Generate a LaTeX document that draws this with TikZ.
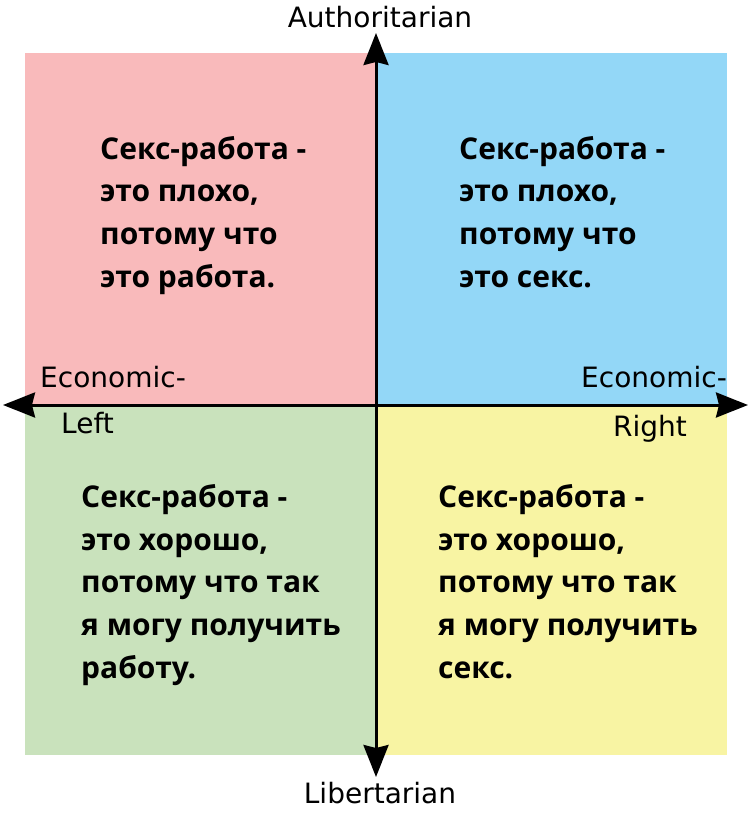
\documentclass[tikz,border=0pt]{standalone}
\usepackage{fontspec}
\usetikzlibrary{arrows.meta}
\newfontfamily\axisfont{DejaVu Sans}
\newfontfamily\quadfont{Open Sans}
\definecolor{qpink}{RGB}{249,186,187}
\definecolor{qblue}{RGB}{147,215,247}
\definecolor{qgreen}{RGB}{201,226,188}
\definecolor{qyellow}{RGB}{248,244,163}
\tikzset{
  quadtext/.style={font=\quadfont\bfseries\fontsize{30}{42.6}\selectfont, align=left, inner sep=0pt, anchor=base west},
  axislabel/.style={font=\axisfont\fontsize{28}{32}\selectfont, inner sep=0pt},
  axisline/.style={line width=3pt, {Stealth[length=32pt,width=25pt,inset=3pt]}-{Stealth[length=32pt,width=25pt,inset=3pt]}}
}
\begin{document}
\begin{tikzpicture}[x=1pt,y=-1pt]
\useasboundingbox (0,0) rectangle (750,816);
\fill[white] (0,0) rectangle (750,816);
% quadrants
\fill[qpink] (25,53) rectangle (375,404);
\fill[qblue] (378,53) rectangle (727,404);
\fill[qgreen] (25,407) rectangle (375,755);
\fill[qyellow] (378,407) rectangle (727,755);
% axes
\coordinate (top) at (376,33);
\coordinate (bottom) at (376,777);
\coordinate (left) at (3,405);
\coordinate (right) at (748,405);
\draw[axisline] (top) -- (bottom);
\draw[axisline] (left) -- (right);
% axis labels
\node[axislabel, anchor=base] (auth) at (380,28) {Authoritarian};
\node[axislabel, anchor=base] (lib) at (380,803) {Libertarian};
\node[axislabel, anchor=base west] (econl) at (40,387) {Economic-};
\node[axislabel, anchor=base west] (leftlab) at (61,433) {Left};
\node[axislabel, anchor=base west] (econr) at (581,387) {Economic-};
\node[axislabel, anchor=base west] (rightlab) at (613,436) {Right};
% quadrant texts (anchored at the baseline of the last line)
\node[quadtext] (tl) at (100,287) {Секс-работа -\\это плохо,\\потому что\\это работа.};
\node[quadtext] (tr) at (459,287) {Секс-работа -\\это плохо,\\потому что\\это секс.};
\node[quadtext] (bl) at (81,678) {Секс-работа -\\это хорошо,\\потому что так\\я могу получить\\работу.};
\node[quadtext] (br) at (438,678) {Секс-работа -\\это хорошо,\\потому что так\\я могу получить\\секс.};
\end{tikzpicture}
\end{document}
